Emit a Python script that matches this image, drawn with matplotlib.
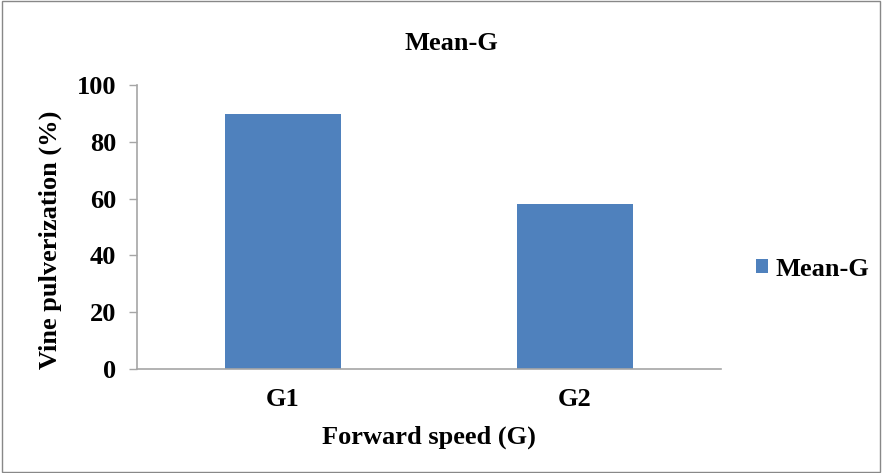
import matplotlib.pyplot as plt

categories = ["G1", "G2"]
mean_g = [89.8, 58.0]

plt.rcParams["font.family"] = ["Liberation Serif", "DejaVu Serif"]
plt.rcParams["font.weight"] = "bold"

W, H = 882, 473
fig = plt.figure(figsize=(W / 100, H / 100), dpi=100)
# plot area in pixels: x 137..721, y 85..369
ax = fig.add_axes([137 / W, 1 - 369 / H, 584 / W, 284 / H])

x = range(len(categories))
ax.bar(x, mean_g, width=0.4, color="#4F81BD", label="Mean-G", zorder=2)

ax.set_xlim(-0.5, 1.5)
ax.set_ylim(0, 100)
ax.set_yticks(range(0, 101, 20))
ax.set_xticks(list(x))
ax.set_xticklabels(categories)

for side in ["top", "right"]:
    ax.spines[side].set_visible(False)
for side in ["left", "bottom"]:
    ax.spines[side].set_color("#A6A6A6")
    ax.spines[side].set_linewidth(1.2)
ax.tick_params(axis="y", length=6, width=1, color="#A6A6A6", labelsize=19, pad=9)
ax.tick_params(axis="x", length=0, labelsize=19, pad=14)

ax.set_xlabel("Forward speed (G)", fontsize=19, fontweight="bold")
ax.xaxis.set_label_coords(0.5, -(437 - 369) / 284)
ax.xaxis.label.set_va("center")
ax.set_ylabel("Vine pulverization (%)", fontsize=19, fontweight="bold")
ax.yaxis.set_label_coords((50 - 137) / 584, (369 - 240) / 284)
ax.yaxis.label.set_va("center")

fig.text(451 / W, 1 - 44 / H, "Mean-G", ha="center", va="center",
         fontsize=19, fontweight="bold")

fig.legend(loc="center left", bbox_to_anchor=(756 / W, 1 - 269 / H),
           frameon=False, prop={"size": 19, "weight": "bold"},
           handlelength=0.45, handleheight=0.45, handletextpad=0.3,
           borderpad=0, borderaxespad=0)

fig.patches.append(plt.Rectangle((0.002, 0.003), 0.996, 0.994, transform=fig.transFigure,
                                 fill=False, edgecolor="#888888", linewidth=1))

fig.savefig("out.png", dpi=100)
